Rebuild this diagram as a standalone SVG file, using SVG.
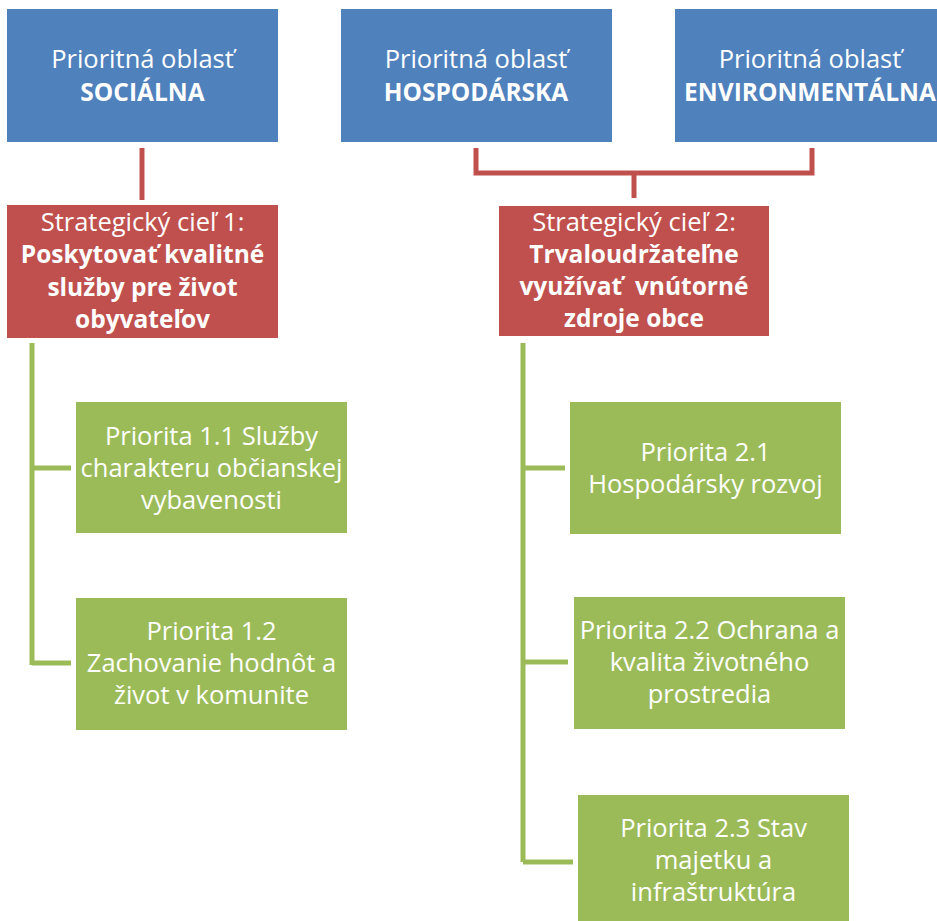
<svg xmlns="http://www.w3.org/2000/svg" width="937" height="921" viewBox="0 0 937 921">
<style>
.blue{fill:#4F81BD}
.red{fill:#C0504D}
.green{fill:#9BBB59}
text{font-family:"Open Sans","Noto Sans","Liberation Sans",sans-serif;font-size:25.5px;fill:#FFFFFF;text-anchor:middle;white-space:pre}
.b{font-weight:bold;font-size:24.5px}
.rc{fill:none;stroke:#C0504D;stroke-width:5}
.gc{fill:none;stroke:#9BBB59;stroke-width:5}
</style>
<rect width="937" height="921" fill="#FFFFFF"/>
<g id="connectors">
<path class="rc" d="M142,148 V200"/>
<path class="rc" d="M476,148 V173 H812 V148 M634,173 V198"/>
<path class="gc" d="M32,343 V665 M32,468 H71 M32,663 H71"/>
<path class="gc" d="M523,343 V862 M523,468 H565 M523,662 H568 M523,862 H573"/>
</g>
<g id="po-socialna">
<rect class="blue" x="7" y="9" width="271" height="133"/>
<text x="142.5" y="68">Prioritná oblasť</text>
<text class="b" x="142.5" y="101">SOCIÁLNA</text>
</g>
<g id="po-hospodarska">
<rect class="blue" x="341" y="9" width="271" height="133"/>
<text x="476" y="68">Prioritná oblasť</text>
<text class="b" x="476" y="101">HOSPODÁRSKA</text>
</g>
<g id="po-environmentalna">
<rect class="blue" x="675" y="9" width="271" height="133"/>
<text x="810" y="68">Prioritná oblasť</text>
<text class="b" x="810" y="101">ENVIRONMENTÁLNA</text>
</g>
<g id="sc1">
<rect class="red" x="7" y="205" width="271" height="133"/>
<text x="142.5" y="231">Strategický cieľ 1:</text>
<text class="b" x="142.5" y="263">Poskytovať kvalitné</text>
<text class="b" x="142.5" y="296">služby pre život</text>
<text class="b" x="142.5" y="328">obyvateľov</text>
</g>
<g id="sc2">
<rect class="red" x="499" y="206" width="270" height="130"/>
<text x="634" y="231">Strategický cieľ 2:</text>
<text class="b" x="634" y="263">Trvaloudržateľne</text>
<text class="b" x="634" y="295">využívať  vnútorné</text>
<text class="b" x="634" y="327">zdroje obce</text>
</g>
<g id="p11">
<rect class="green" x="76" y="402" width="271" height="131"/>
<text x="211.5" y="445">Priorita 1.1 Služby</text>
<text x="211.5" y="477">charakteru občianskej</text>
<text x="211.5" y="509">vybavenosti</text>
</g>
<g id="p12">
<rect class="green" x="76" y="598" width="271" height="132"/>
<text x="211.5" y="640">Priorita 1.2</text>
<text x="211.5" y="672">Zachovanie hodnôt a</text>
<text x="211.5" y="704">život v komunite</text>
</g>
<g id="p21">
<rect class="green" x="570" y="402" width="271" height="132"/>
<text x="705.5" y="461">Priorita 2.1</text>
<text x="705.5" y="493">Hospodársky rozvoj</text>
</g>
<g id="p22">
<rect class="green" x="574" y="597" width="271" height="132"/>
<text x="709.5" y="639">Priorita 2.2 Ochrana a</text>
<text x="709.5" y="671">kvalita životného</text>
<text x="709.5" y="703">prostredia</text>
</g>
<g id="p23">
<rect class="green" x="578" y="795" width="271" height="126"/>
<text x="713.5" y="837">Priorita 2.3 Stav</text>
<text x="713.5" y="869">majetku a</text>
<text x="713.5" y="901">infraštruktúra</text>
</g>
</svg>
